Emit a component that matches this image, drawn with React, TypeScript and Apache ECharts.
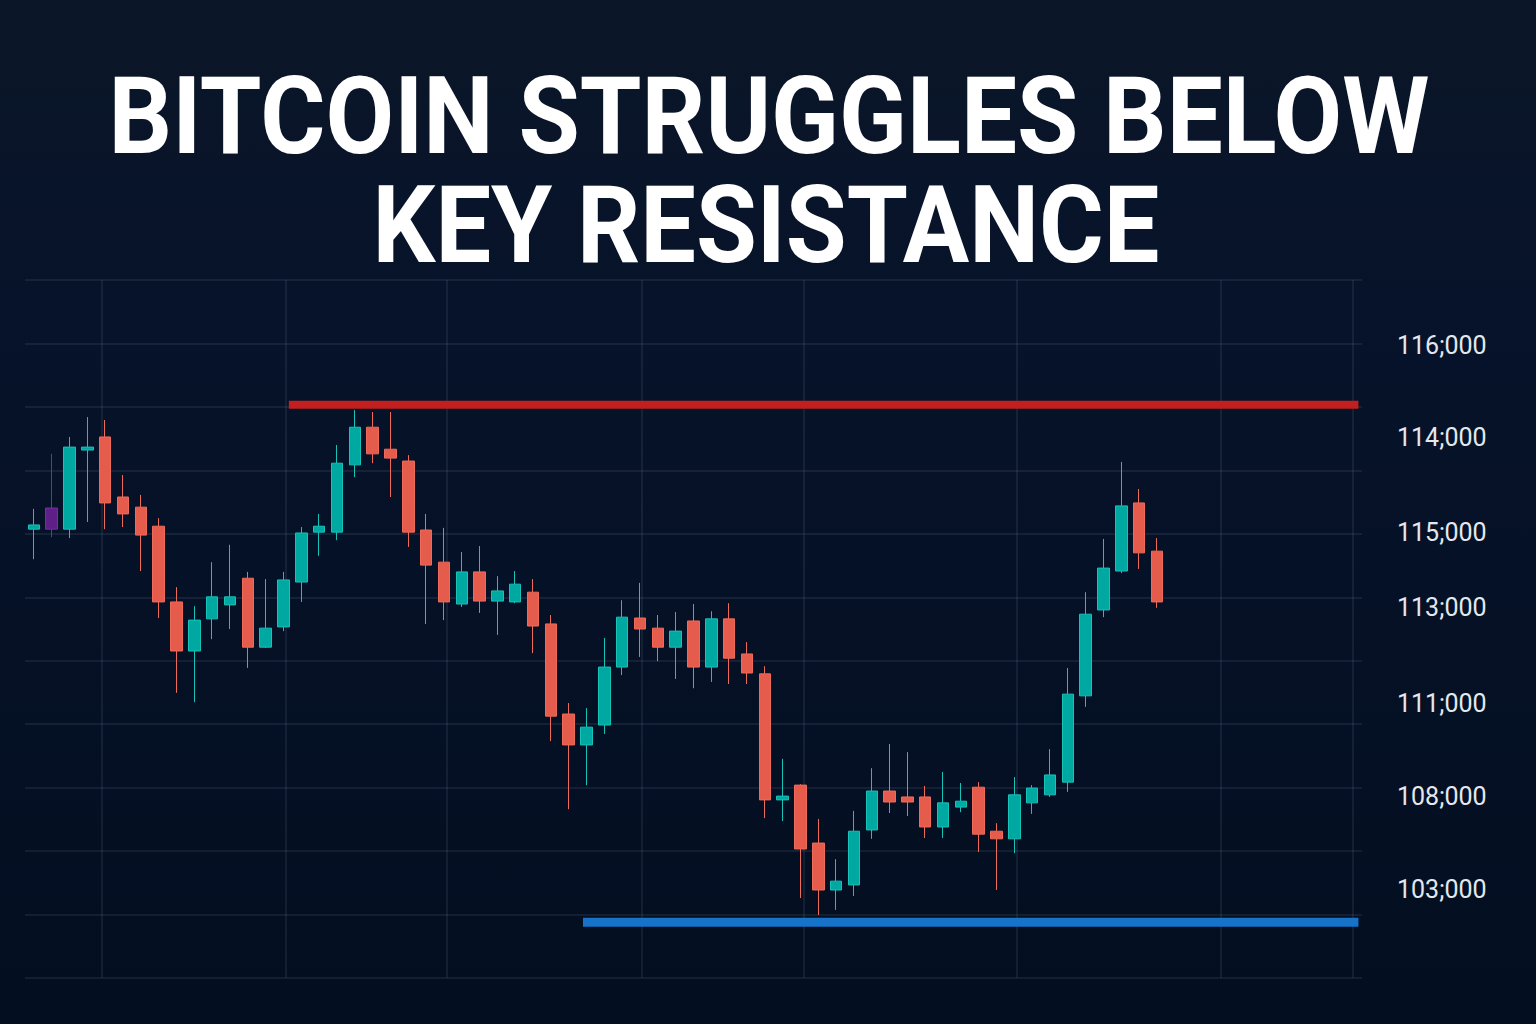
import React, { useEffect, useRef } from 'react';
import * as echarts from 'echarts';

// ---- data ----
const categories = Array.from({ length: 75 }, (_, i) => `D${i + 1}`);

const opens = [
  111110, 111110, 111110, 112980, 113290, 111870, 111630, 111180, 109390, 108230,
  108990, 109320, 109950, 108320, 108800, 109860, 111040, 111040, 112630, 113520,
  113000, 112720, 111090, 110330, 109340, 110100, 109410, 109390, 109620, 108870,
  106740, 106010, 106480, 107850, 109010, 108770, 108320, 108940, 107850, 108990,
  108160, 107690, 104710, 105060, 103690, 102580, 102700, 104000, 104920, 104780,
  104780, 104070, 104540, 105010, 103970, 103790, 104640, 104830, 105130, 107170,
  109200, 110120, 111730, 110590,
];
const closes = [
  111210, 111610, 113050, 113050, 111730, 111470, 110970, 109390, 108230, 108960,
  109510, 109510, 108320, 108770, 109910, 111020, 111180, 112670, 113520, 112890,
  112790, 111040, 110260, 109390, 110100, 109410, 109650, 109810, 108820, 106690,
  106010, 106430, 107850, 109030, 108750, 108320, 108700, 107850, 108990, 108060,
  107710, 104710, 104800, 103550, 102580, 102790, 103970, 104920, 104660, 104660,
  104070, 104640, 104680, 103900, 103790, 104830, 104990, 105300, 107210, 109100,
  110190, 111660, 110550, 109390,
];
const lows = [
  110400, 110920, 110900, 111280, 111110, 111160, 110120, 109010, 107240, 107020,
  108510, 108750, 107830, 108300, 108700, 109390, 110480, 110850, 112340, 112670,
  111870, 110690, 108870, 108960, 109270, 109130, 108610, 109360, 108180, 106100,
  104490, 105060, 106270, 107660, 108090, 107990, 107570, 107350, 107500, 107450,
  107450, 104280, 104210, 102390, 101990, 102110, 102440, 103790, 104400, 104330,
  103810, 103810, 104420, 103480, 102580, 103450, 104380, 104780, 104900, 106910,
  109030, 110070, 110170, 109250,
];
const highs = [
  111590, 112890, 113290, 113760, 113690, 112390, 111920, 111370, 109740, 109290,
  110330, 110740, 110100, 109930, 110100, 111160, 111470, 113100, 113930, 113880,
  113880, 112860, 111470, 111140, 110570, 110710, 110000, 110120, 109930, 109080,
  107000, 106880, 108540, 109430, 109840, 109080, 109150, 109340, 109170, 109360,
  108440, 107870, 105680, 105080, 104260, 103310, 104450, 105460, 106030, 105840,
  105040, 105370, 105110, 105130, 104160, 105250, 105060, 105910, 107830, 109620,
  110880, 112700, 112060, 110900,
];
const purpleCandles = [1];

const resistanceLevel = 114050;
const supportLevel = 101820;

const tickLabelValues = [115460, 113270, 111020, 109270, 106980, 104780, 102600];
const tickLabelTexts = ['116;000', '114;000', '115;000', '113;000', '111;000', '108;000', '103;000'];

// ---- layout / style constants ----
const V_GRID = [3.82, 14.14, 23.17, 34.1, 43.19, 55.14, 66.58, 74.0];
const RES_SPAN = [14.3, 74.3];
const SUP_SPAN = [30.8, 74.3];

const UP = '#00a8a2';
const UP_BORDER = '#17c2b9';
const DOWN = '#e65c4c';
const DOWN_BORDER = '#ef6b59';
const PURPLE = '#5e1f86';
const GRID_COLOR = 'rgba(150,165,190,0.15)';

export default function App() {
  const ref = useRef<HTMLDivElement>(null);

  useEffect(() => {
    const chart = echarts.init(ref.current!, null, { renderer: 'svg' });

    const candleData = categories.map((_, i) => {
      if (i >= opens.length) return '-';
      const v = [opens[i], closes[i], lows[i], highs[i]];
      if (purpleCandles.includes(i)) {
        return {
          value: v,
          itemStyle: { color: PURPLE, color0: PURPLE, borderColor: '#7a2aa8', borderColor0: '#7a2aa8' },
        };
      }
      return v;
    });

    const titleStyle = {
      fill: '#ffffff',
      fontSize: 108,
      fontWeight: 'bold',
      fontFamily: 'Roboto',
      align: 'center',
      verticalAlign: 'middle',
      textAlign: 'center',
      textVerticalAlign: 'middle',
    };

    const option: any = {
      animation: false,
      backgroundColor: {
        type: 'linear', x: 0, y: 0, x2: 0, y2: 1,
        colorStops: [
          { offset: 0, color: '#0b1628' },
          { offset: 0.3, color: '#07132a' },
          { offset: 1, color: '#030e20' },
        ],
      },
      grid: { left: 25, right: 174, top: 280, bottom: 46, containLabel: false },
      xAxis: [
        {
          type: 'category',
          data: categories,
          boundaryGap: true,
          axisLine: { show: false },
          axisTick: { show: false },
          axisLabel: { show: false },
          splitLine: { show: false },
        },
        {
          type: 'value',
          min: -0.5,
          max: 74.5,
          axisLine: { show: false },
          axisTick: { show: false, customValues: V_GRID },
          axisLabel: { show: false },
          splitLine: { show: true, lineStyle: { color: GRID_COLOR, width: 1.5 } },
        },
      ],
      yAxis: [
        {
          type: 'value',
          position: 'right',
          min: 100500,
          max: 117000,
          interval: 1500,
          axisLine: { show: false },
          axisTick: { show: false },
          axisLabel: { show: false },
          splitLine: { show: true, lineStyle: { color: GRID_COLOR, width: 1.5 } },
        },
        {
          type: 'value',
          position: 'right',
          min: 100500,
          max: 117000,
          axisLine: { show: false },
          axisTick: { show: false },
          splitLine: { show: false },
          axisLabel: {
            show: true,
            customValues: tickLabelValues,
            margin: 35,
            color: '#e4e8ee',
            fontSize: 25,
            fontFamily: 'Roboto',
            formatter: (v: number) => {
              let best = 0;
              for (let i = 1; i < tickLabelValues.length; i++) {
                if (Math.abs(tickLabelValues[i] - v) < Math.abs(tickLabelValues[best] - v)) best = i;
              }
              return tickLabelTexts[best];
            },
          },
        },
      ],
      series: [
        {
          type: 'candlestick',
          xAxisIndex: 0,
          yAxisIndex: 0,
          barWidth: 12,
          data: candleData,
          itemStyle: {
            color: UP,
            color0: DOWN,
            borderColor: UP_BORDER,
            borderColor0: DOWN_BORDER,
            borderWidth: 1,
          },
          z: 3,
        },
        {
          type: 'line',
          xAxisIndex: 1,
          yAxisIndex: 0,
          symbol: 'none',
          data: [[RES_SPAN[0], resistanceLevel], [RES_SPAN[1], resistanceLevel]],
          lineStyle: { color: '#c41f1f', width: 8, cap: 'butt' },
          z: 4,
        },
        {
          type: 'line',
          xAxisIndex: 1,
          yAxisIndex: 0,
          symbol: 'none',
          data: [[SUP_SPAN[0], supportLevel], [SUP_SPAN[1], supportLevel]],
          lineStyle: { color: '#1673c9', width: 9, cap: 'butt' },
          z: 4,
        },
      ],
      graphic: [
        {
          type: 'text',
          x: 769,
          y: 116,
          scaleX: 0.923,
          style: { ...titleStyle, text: 'BITCOIN STRUGGLES BELOW' },
        },
        {
          type: 'text',
          x: 766,
          y: 225,
          scaleX: 0.916,
          style: { ...titleStyle, text: 'KEY RESISTANCE' },
        },
      ],
    };

    chart.setOption(option);
    return () => chart.dispose();
  }, []);

  return (
    <div
      ref={ref}
      style={{ position: 'fixed', left: 0, top: 0, width: 1536, height: 1024 }}
    />
  );
}
